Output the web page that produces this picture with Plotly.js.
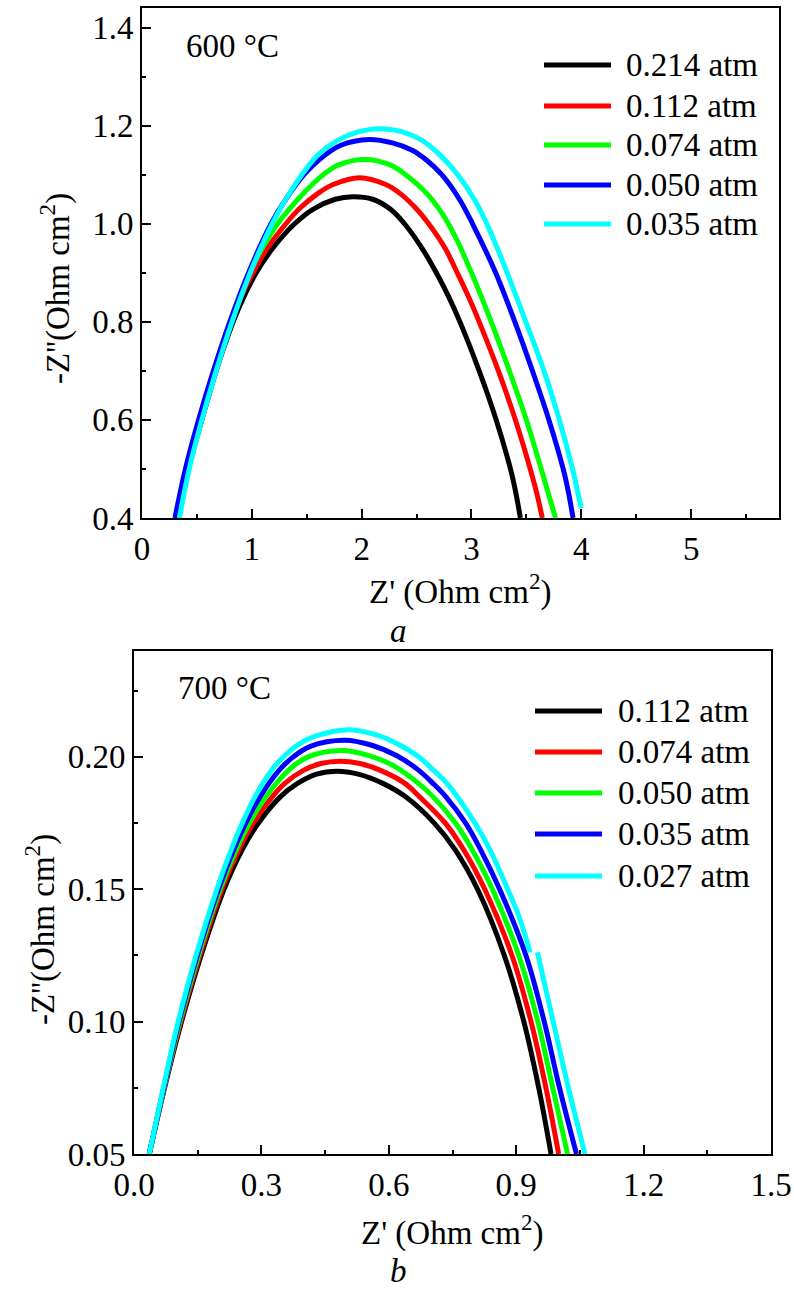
<!DOCTYPE html>
<html>
<head>
<meta charset="utf-8">
<script src="https://cdn.plot.ly/plotly-3.0.1.min.js"></script>
<style>html,body{margin:0;padding:0;background:#fff;}#chart{width:794px;height:1289px;}</style>
</head>
<body>
<div id="chart"></div>
<script>
// ---------- Data: panel a (600 °C) ----------
const labelsA = ['0.214 atm', '0.112 atm', '0.074 atm', '0.050 atm', '0.035 atm'];
const colors = ['#000000', '#ff0000', '#00ff00', '#0000ff', '#00ffff'];

const a_x_0214 = [0.32,0.42,0.545,0.675,0.83,0.925,1.04,1.19,1.39,1.56,1.76,1.92,2.10,2.26,2.39,2.55,2.68,2.795,2.895,3.07,3.225,3.355,3.405,3.445];
const a_y_0214 = [0.40,0.50,0.60,0.70,0.80,0.85,0.90,0.95,1.00,1.03,1.05,1.055,1.05,1.03,1.00,0.95,0.90,0.85,0.80,0.70,0.60,0.50,0.45,0.40];

const a_x_0112 = [0.32,0.42,0.54,0.665,0.81,0.90,1.01,1.14,1.31,1.43,1.59,1.74,1.98,2.22,2.36,2.50,2.61,2.76,2.87,2.975,3.07,3.245,3.40,3.535,3.595,3.645];
const a_y_0112 = [0.40,0.50,0.60,0.70,0.80,0.85,0.90,0.95,1.00,1.03,1.06,1.08,1.094,1.08,1.06,1.03,1.00,0.95,0.90,0.85,0.80,0.70,0.60,0.50,0.45,0.40];

const a_x_0074 = [0.32,0.415,0.535,0.66,0.80,0.885,0.98,1.095,1.235,1.42,1.55,1.65,1.79,2.03,2.26,2.40,2.60,2.735,2.86,3.00,3.18,3.345,3.50,3.635,3.70,3.765];
const a_y_0074 = [0.40,0.50,0.60,0.70,0.80,0.85,0.90,0.95,1.00,1.05,1.08,1.10,1.12,1.131,1.12,1.10,1.06,1.02,0.97,0.90,0.80,0.70,0.60,0.50,0.45,0.40];

const a_x_0050 = [0.30,0.395,0.515,0.65,0.80,0.97,1.175,1.31,1.475,1.61,1.81,2.07,2.28,2.46,2.59,2.73,2.89,3.01,3.22,3.395,3.555,3.705,3.835,3.885,3.925];
const a_y_0050 = [0.40,0.50,0.60,0.70,0.80,0.90,1.00,1.05,1.10,1.13,1.16,1.172,1.165,1.15,1.13,1.10,1.05,1.00,0.90,0.80,0.70,0.60,0.50,0.45,0.40];

const a_x_0035 = [0.34,0.43,0.545,0.675,0.82,0.985,1.185,1.31,1.455,1.60,1.78,1.96,2.17,2.38,2.55,2.715,2.875,3.025,3.14,3.325,3.495,3.66,3.80,3.92,3.97,4.00];
const a_y_0035 = [0.40,0.50,0.60,0.70,0.80,0.90,1.00,1.05,1.10,1.14,1.17,1.187,1.194,1.187,1.17,1.14,1.10,1.05,1.00,0.90,0.80,0.70,0.60,0.50,0.45,0.42];

// ---------- Data: panel b (700 °C) ----------
const labelsB = ['0.112 atm', '0.074 atm', '0.050 atm', '0.035 atm', '0.027 atm'];

const b_x_0112 = [0.036,0.072,0.112,0.158,0.212,0.255,0.293,0.345,0.385,0.43,0.478,0.528,0.586,0.639,0.707,0.756,0.809,0.872,0.918,0.953,0.982];
const b_y_0112 = [0.05,0.075,0.10,0.125,0.15,0.165,0.175,0.185,0.19,0.1935,0.1946,0.1935,0.19,0.185,0.175,0.165,0.15,0.125,0.10,0.075,0.05];

const b_x_0074 = [0.036,0.071,0.110,0.155,0.207,0.247,0.281,0.326,0.355,0.40,0.44,0.485,0.532,0.579,0.638,0.672,0.733,0.776,0.826,0.89,0.935,0.970,1.0];
const b_y_0074 = [0.05,0.075,0.10,0.125,0.15,0.165,0.175,0.185,0.19,0.195,0.1975,0.1984,0.1975,0.195,0.19,0.185,0.175,0.165,0.15,0.125,0.10,0.075,0.05];

const b_x_0050 = [0.036,0.0705,0.108,0.152,0.203,0.241,0.272,0.311,0.364,0.41,0.49,0.553,0.601,0.628,0.670,0.704,0.757,0.796,0.844,0.906,0.951,0.986,1.021];
const b_y_0050 = [0.05,0.075,0.10,0.125,0.15,0.165,0.175,0.185,0.195,0.20,0.2024,0.2005,0.1975,0.195,0.19,0.185,0.175,0.165,0.15,0.125,0.10,0.075,0.05];

const b_x_0035 = [0.036,0.070,0.106,0.149,0.199,0.235,0.263,0.297,0.342,0.375,0.415,0.497,0.562,0.618,0.670,0.704,0.734,0.781,0.816,0.861,0.923,0.966,1.002,1.042];
const b_y_0035 = [0.05,0.075,0.10,0.125,0.15,0.165,0.175,0.185,0.195,0.20,0.204,0.2063,0.2043,0.2005,0.195,0.19,0.185,0.175,0.165,0.15,0.125,0.10,0.075,0.05];

const b_x_0027 = [0.036,0.069,0.104,0.146,0.195,0.229,0.255,0.285,0.324,0.352,0.39,0.43,0.505,0.567,0.620,0.671,0.705,0.737,0.803,0.838,0.880,0.906,0.926,0.933,null,0.950,0.987,1.023,1.062];
const b_y_0027 = [0.05,0.075,0.10,0.125,0.15,0.165,0.175,0.185,0.195,0.20,0.205,0.208,0.2103,0.2085,0.205,0.20,0.195,0.19,0.175,0.165,0.15,0.14,0.13,0.1262,null,0.1262,0.10,0.075,0.05];

const seriesA = [[a_x_0214,a_y_0214],[a_x_0112,a_y_0112],[a_x_0074,a_y_0074],[a_x_0050,a_y_0050],[a_x_0035,a_y_0035]];
const seriesB = [[b_x_0112,b_y_0112],[b_x_0074,b_y_0074],[b_x_0050,b_y_0050],[b_x_0035,b_y_0035],[b_x_0027,b_y_0027]];

// ---------- Build ----------
const W = 794, H = 1289;
const FONT = "'Liberation Serif', 'Times New Roman', serif";
const FS = 33;
const px = v => v / W;
const py = v => 1 - v / H;

const traces = [];
seriesA.forEach((s, i) => traces.push({
  x: s[0], y: s[1], xaxis: 'x', yaxis: 'y', type: 'scatter', mode: 'lines',
  name: labelsA[i], line: {color: colors[i], width: 5, shape: 'spline', smoothing: 1},
  connectgaps: false, showlegend: false, hoverinfo: 'skip'
}));
seriesB.forEach((s, i) => traces.push({
  x: s[0], y: s[1], xaxis: 'x2', yaxis: 'y2', type: 'scatter', mode: 'lines',
  name: labelsB[i], line: {color: colors[i], width: 5, shape: 'spline', smoothing: 1},
  connectgaps: false, showlegend: false, hoverinfo: 'skip'
}));

function axisBase(extra) {
  return Object.assign({
    showline: true, linewidth: 2, linecolor: '#000', mirror: true,
    ticks: 'inside', ticklen: 9, tickwidth: 2, tickcolor: '#000',
    showgrid: false, zeroline: false,
    tickfont: {family: FONT, size: FS, color: '#000'},
    fixedrange: true
  }, extra);
}

const shapes = [];
const annotations = [];

const legA = {x0: 544, x1: 611, tx: 624, rows: [65, 106, 145, 185, 224]};
const legB = {x0: 535, x1: 602, tx: 616, rows: [711, 752, 793, 834, 876]};
[[legA, labelsA], [legB, labelsB]].forEach(([lg, labs]) => {
  labs.forEach((lab, i) => {
    shapes.push({type: 'line', xref: 'paper', yref: 'paper',
      x0: px(lg.x0), x1: px(lg.x1), y0: py(lg.rows[i]), y1: py(lg.rows[i]),
      line: {color: colors[i], width: 5}});
    annotations.push({xref: 'paper', yref: 'paper', x: px(lg.tx), y: py(lg.rows[i]),
      xanchor: 'left', yanchor: 'middle', text: lab, showarrow: false,
      font: {family: FONT, size: FS, color: '#000'}});
  });
});

function ann(x, y, text, opts) {
  annotations.push(Object.assign({xref: 'paper', yref: 'paper', x: px(x), y: py(y),
    xanchor: 'center', yanchor: 'middle', text: text, showarrow: false,
    font: {family: FONT, size: FS, color: '#000'}}, opts || {}));
}
ann(184, 46, '600 °C', {xanchor: 'left'});
ann(176, 688, '700 °C', {xanchor: 'left'});
ann(460, 589, "Z' (Ohm cm<sup>2</sup>)");
ann(452, 1230, "Z' (Ohm cm<sup>2</sup>)");
ann(55, 289, "-Z''(Ohm cm<sup>2</sup>)", {textangle: -90});
ann(40, 930, "-Z''(Ohm cm<sup>2</sup>)", {textangle: -90});
ann(398, 631, '<i>a</i>');
ann(398, 1271, '<i>b</i>');

const layout = {
  width: W, height: H,
  margin: {l: 0, r: 0, t: 0, b: 0},
  paper_bgcolor: '#fff', plot_bgcolor: '#fff',
  showlegend: false,
  font: {family: FONT, size: FS, color: '#000'},
  xaxis: axisBase({domain: [px(142), px(779)], anchor: 'y', range: [0, 5.8],
    tick0: 0, dtick: 1, minor: {ticks: 'inside', ticklen: 4, tickwidth: 2, tickcolor: '#000', tick0: 0, dtick: 0.5}}),
  yaxis: axisBase({domain: [py(518), py(8)], anchor: 'x', range: [0.4, 1.44],
    tick0: 0.4, dtick: 0.2, tickformat: '.1f',
    minor: {ticks: 'inside', ticklen: 4, tickwidth: 2, tickcolor: '#000', tick0: 0.4, dtick: 0.1}}),
  xaxis2: axisBase({domain: [px(134), px(771)], anchor: 'y2', range: [0, 1.5],
    tick0: 0, dtick: 0.3, tickformat: '.1f',
    minor: {ticks: 'inside', ticklen: 4, tickwidth: 2, tickcolor: '#000', tick0: 0, dtick: 0.15}}),
  yaxis2: axisBase({domain: [py(1154), py(651)], anchor: 'x2', range: [0.05, 0.24],
    tick0: 0.05, dtick: 0.05, tickformat: '.2f',
    minor: {ticks: 'inside', ticklen: 4, tickwidth: 2, tickcolor: '#000', tick0: 0.05, dtick: 0.025}}),
  shapes: shapes,
  annotations: annotations
};

Plotly.newPlot('chart', traces, layout, {staticPlot: true, displayModeBar: false});
</script>
</body>
</html>
